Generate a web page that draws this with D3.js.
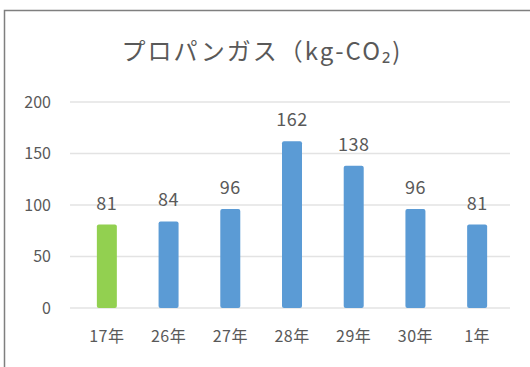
<!DOCTYPE html>
<html>
<head>
<meta charset="utf-8">
<script src="https://cdn.jsdelivr.net/npm/d3@7"></script>
<style>
  html, body { margin: 0; padding: 0; background: #fff; }
  svg { display: block; }
  text { font-family: "Noto Sans CJK JP", "Open Sans", sans-serif; fill: #595959; }
</style>
</head>
<body>
<svg id="chart" width="530" height="367"></svg>
<script>
// Annual propane gas CO2 emissions (kg-CO2)
const categories = ["17年", "26年", "27年", "28年", "29年", "30年", "1年"];
const values = [81, 84, 96, 162, 138, 96, 81];
const barColors = ["#92d050", "#5b9bd5", "#5b9bd5", "#5b9bd5", "#5b9bd5", "#5b9bd5", "#5b9bd5"];
const yTicks = [0, 50, 100, 150, 200];
const title = "プロパンガス（kg-CO₂)";

const svg = d3.select("#chart");

// outer frame (extends past the right and bottom edges)
svg.append("rect")
  .attr("x", 4.5).attr("y", 10.5)
  .attr("width", 560).attr("height", 400)
  .attr("fill", "#fff")
  .attr("stroke", "#7f7f7f").attr("stroke-width", 1.5);

const x = d3.scaleBand().domain(categories).range([76, 508]).paddingInner(0.676).paddingOuter(0.338);
const y = d3.scaleLinear().domain([0, 200]).range([308, 102]);

// gridlines
svg.append("g").selectAll("line").data(yTicks).join("line")
  .attr("x1", 70).attr("x2", 510)
  .attr("y1", d => y(d)).attr("y2", d => y(d))
  .attr("stroke", "#e3e3e3").attr("stroke-width", 1.5);

// y axis labels
const yAxis = d3.axisLeft(y).tickValues(yTicks).tickSize(0).tickPadding(0);
const gy = svg.append("g").attr("transform", "translate(51,0)").call(yAxis);
gy.select(".domain").remove();
gy.selectAll("text").attr("font-size", 16).style("fill", "#595959")
  .style("font-family", "'Noto Sans CJK JP', sans-serif");

// x axis labels
const xAxis = d3.axisBottom(x).tickSize(0).tickPadding(0);
const gx = svg.append("g").attr("transform", "translate(0,331)").call(xAxis);
gx.select(".domain").remove();
gx.selectAll("text").attr("font-size", 16).attr("letter-spacing", 0.5).style("fill", "#595959")
  .style("font-family", "'Noto Sans CJK JP', sans-serif");

// bars
svg.append("g").selectAll("rect").data(values).join("rect")
  .attr("x", (d, i) => x(categories[i]))
  .attr("width", x.bandwidth())
  .attr("y", d => y(d))
  .attr("height", d => y(0) - y(d))
  .attr("rx", 2)
  .attr("fill", (d, i) => barColors[i]);

// value labels
svg.append("g").selectAll("text").data(values).join("text")
  .attr("x", (d, i) => x(categories[i]) + x.bandwidth() / 2)
  .attr("y", d => y(d) - 15)
  .attr("text-anchor", "middle")
  .attr("font-size", 18)
  .attr("letter-spacing", 0.5)
  .text(d => d);

// title
svg.append("text")
  .attr("x", 262).attr("y", 60)
  .attr("text-anchor", "middle")
  .attr("font-size", 24)
  .attr("letter-spacing", 2)
  .text(title);
</script>
</body>
</html>
